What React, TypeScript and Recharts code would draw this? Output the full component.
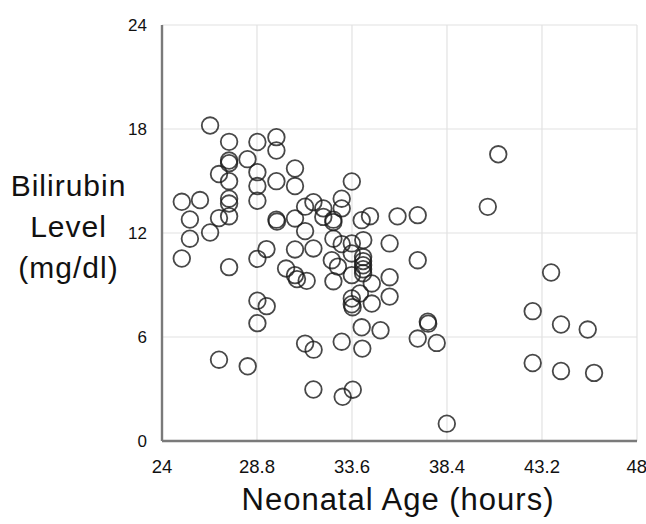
import React from 'react';
import { ScatterChart, Scatter, XAxis, YAxis, CartesianGrid } from 'recharts';

// neonatal age (hours) and bilirubin level (mg/dl)
const ages = [
    25.0, 25.92, 25.41, 26.43, 25.41, 25.0, 26.43, 27.39, 27.39, 27.39,
    26.88, 27.39, 27.39, 27.39, 27.39, 26.88, 27.39, 28.32, 28.82, 28.82,
    28.82, 28.82, 28.82, 29.28, 28.82, 29.29, 28.82, 26.88, 28.33, 29.78,
    29.78, 29.78, 29.78, 29.81, 30.72, 30.72, 30.72, 31.23, 31.65, 31.23,
    32.15, 32.15, 32.66, 32.66, 33.08, 33.08, 33.59, 34.09, 34.51, 35.9,
    36.92, 30.72, 31.65, 30.27, 30.72, 30.82, 31.31, 32.66, 32.58, 33.08,
    32.89, 32.66, 33.59, 33.59, 33.59, 34.17, 34.16, 34.16, 34.16, 34.16,
    34.16, 33.59, 33.59, 33.63, 34.0, 34.6, 34.6, 35.5, 35.5, 35.5,
    34.09, 35.04, 31.23, 31.66, 33.08, 34.12, 31.65, 33.13, 33.64, 36.92,
    37.43, 37.45, 36.92, 37.88, 38.39, 40.99, 40.46, 43.66, 42.73, 44.16,
    45.51, 42.73, 44.16, 45.83,
];
const levels = [
    13.8, 13.9, 12.78, 12.03, 11.67, 10.53, 18.2, 17.26, 16.18, 16.03,
    15.4, 14.99, 13.98, 13.7, 12.97, 12.86, 10.03, 16.26, 17.25, 15.51,
    14.71, 13.86, 10.51, 11.07, 8.09, 7.78, 6.8, 4.69, 4.31, 17.53,
    16.76, 14.99, 12.77, 12.66, 15.72, 14.71, 12.84, 13.52, 13.78, 12.11,
    13.42, 12.93, 12.77, 12.63, 13.98, 13.42, 14.97, 12.74, 12.97, 12.96,
    13.03, 11.05, 11.11, 9.95, 9.57, 9.34, 9.24, 11.67, 10.43, 11.36,
    10.06, 9.22, 11.4, 10.82, 9.57, 11.59, 10.61, 10.38, 10.14, 9.91,
    9.68, 8.22, 7.89, 7.72, 8.51, 9.09, 7.93, 11.4, 9.45, 8.33,
    6.56, 6.39, 5.62, 5.27, 5.73, 5.33, 2.97, 2.55, 2.96, 10.43,
    6.88, 6.77, 5.91, 5.66, 1.0, 16.54, 13.51, 9.72, 7.49, 6.72,
    6.43, 4.5, 4.04, 3.93,
];
const xTicks = [24, 28.8, 33.6, 38.4, 43.2, 48];
const yTicks = [0, 6, 12, 18, 24];

const font = '"Liberation Sans", Arial, Helvetica, sans-serif';
const frame = { stroke: '#7a7a7a', strokeWidth: 2.4 };

const Ring = (props: any) => {
    const { cx, cy } = props;
    if (cx == null || cy == null) return <g />;
    return <circle cx={cx} cy={cy} r={8.3} fill="none" stroke="#1a1a1a" strokeOpacity={0.8} strokeWidth={1.8} />;
};

export default function App() {
    const data = ages.map((a, i) => ({ age: a, level: levels[i] }));

    return (
        <div style={{ position: 'absolute', left: 0, top: 0, width: 646, height: 524, background: '#fff', fontFamily: font }}>
            <ScatterChart width={646} height={524} margin={{ top: 25, right: 9, bottom: 43, left: 102 }}>
                <CartesianGrid stroke="#e2e2e2" strokeWidth={1.2} />
                <XAxis
                    dataKey="age" type="number" domain={[24, 48]} ticks={xTicks}
                    height={40} tickLine={false} tickMargin={13}
                    axisLine={frame}
                    tick={{ fill: '#111', fontSize: 18.5, fontFamily: font }}
                    allowDataOverflow
                />
                <XAxis xAxisId="top" orientation="top" type="number" domain={[24, 48]} height={0}
                    tick={false} tickLine={false} axisLine={frame} />
                <YAxis
                    dataKey="level" type="number" domain={[0, 24]} ticks={yTicks}
                    width={60} tickLine={false} tickMargin={9}
                    axisLine={frame}
                    tick={{ fill: '#111', fontSize: 17, fontFamily: font }}
                />
                <YAxis yAxisId="right" orientation="right" type="number" domain={[0, 24]} width={0}
                    tick={false} tickLine={false} axisLine={frame} />
                <Scatter data={data} shape={Ring} isAnimationActive={false} />
            </ScatterChart>

            <div style={{ position: 'absolute', left: 0, top: 165, width: 137, textAlign: 'center', fontSize: 30, letterSpacing: 1, lineHeight: '41px', color: '#111' }}>
                Bilirubin<br />Level<br />(mg/dl)
            </div>
            <div style={{ position: 'absolute', left: 198, top: 482, width: 400, textAlign: 'center', fontSize: 31, letterSpacing: 1, lineHeight: '36px', color: '#111' }}>
                Neonatal Age (hours)
            </div>
        </div>
    );
}
